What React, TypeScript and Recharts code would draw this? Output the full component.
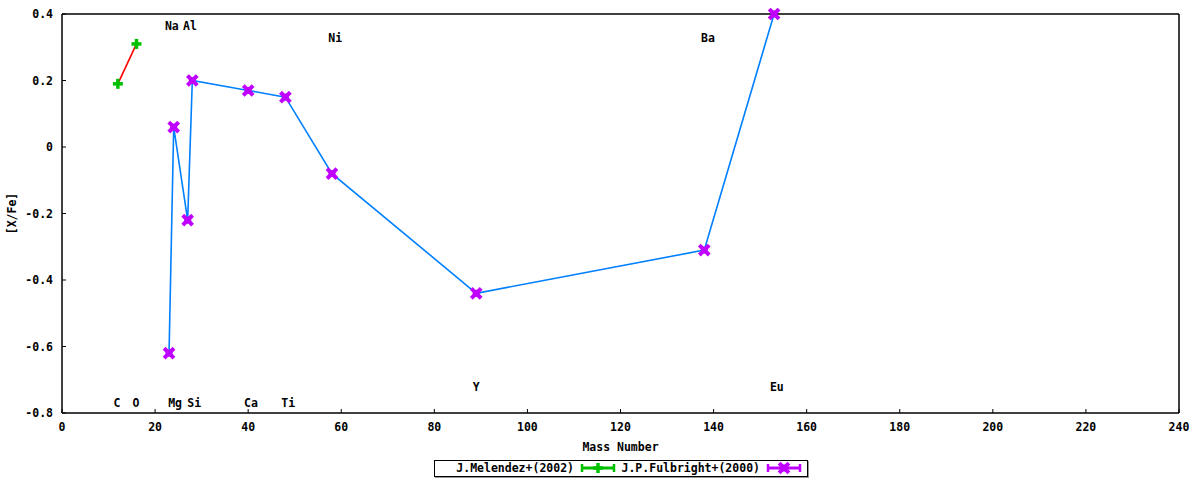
import { ComposedChart, Line, Scatter, XAxis, YAxis, Legend } from "recharts";

// abundance ratios [X/Fe] vs mass number
const melendezMass = [12, 16];
const melendezXFe = [0.19, 0.31];

const fulbrightMass = [23, 24, 27, 28, 40, 48, 58, 89, 138, 153];
const fulbrightXFe = [-0.62, 0.06, -0.22, 0.2, 0.17, 0.15, -0.08, -0.44, -0.31, 0.4];

// element labels and where they sit
const elementNames = ["C", "O", "Na", "Al", "Mg", "Si", "Ca", "Ti", "Ni", "Y", "Ba", "Eu"];
const labelMass = [11.8, 15.9, 23.6, 27.5, 24.3, 28.4, 40.6, 48.6, 58.7, 89, 138.8, 153.6];
const labelXFe = [-0.77, -0.77, 0.364, 0.364, -0.77, -0.77, -0.77, -0.77, 0.328, -0.722, 0.328, -0.722];

const xTicks = [0, 20, 40, 60, 80, 100, 120, 140, 160, 180, 200, 220, 240];
const yTicks = [-0.8, -0.6, -0.4, -0.2, 0, 0.2, 0.4];

const melendez = melendezMass.map((mass, i) => ({ mass, xfe: melendezXFe[i] }));
const fulbright = fulbrightMass.map((mass, i) => ({ mass, xfe: fulbrightXFe[i] }));
const labels = elementNames.map((name, i) => ({ name, mass: labelMass[i], xfe: labelXFe[i] }));

const FONT = "'DejaVu Sans Mono', monospace";
const GREEN = "#00c000";
const RED = "#ff0000";
const BLUE = "#0080ff";
const PURPLE = "#c000ff";
const tickStyle = { fill: "#000", fontFamily: FONT, fontSize: 11.5, fontWeight: 700 };

function PlusMark({ cx, cy }: { cx: number; cy: number }) {
  return (
    <g>
      <line x1={cx - 5} y1={cy} x2={cx + 5} y2={cy} stroke={GREEN} strokeWidth={3.5} />
      <line x1={cx} y1={cy - 5} x2={cx} y2={cy + 5} stroke={GREEN} strokeWidth={3.5} />
    </g>
  );
}

function CrossMark({ cx, cy }: { cx: number; cy: number }) {
  return (
    <g>
      <line x1={cx - 3.5} y1={cy - 3.5} x2={cx + 3.5} y2={cy + 3.5} stroke={PURPLE} strokeWidth={4} strokeLinecap="square" />
      <line x1={cx - 3.5} y1={cy + 3.5} x2={cx + 3.5} y2={cy - 3.5} stroke={PURPLE} strokeWidth={4} strokeLinecap="square" />
      <rect x={cx - 3.5} y={cy - 3.5} width={7} height={7} fill={PURPLE} />
    </g>
  );
}

function Sample({ x, color, mark }: { x: number; color: string; mark: "plus" | "cross" }) {
  const mid = x + 17;
  return (
    <g>
      <line x1={x} y1={7} x2={x + 34} y2={7} stroke={color} strokeWidth={3} />
      <line x1={x + 1} y1={3} x2={x + 1} y2={11} stroke={color} strokeWidth={2.5} />
      <line x1={x + 33} y1={3} x2={x + 33} y2={11} stroke={color} strokeWidth={2.5} />
      {mark === "plus" ? <PlusMark cx={mid} cy={7} /> : <CrossMark cx={mid} cy={7} />}
    </g>
  );
}

function LegendBox() {
  const t = { fontFamily: FONT, fontSize: 11.5, fontWeight: 700, fill: "#000" };
  return (
    <svg width={372} height={15} style={{ display: "block", border: "1px solid #000", boxShadow: "1px 1px 0 #999", background: "#fff" }}>
      <text x={139} y={7} textAnchor="end" dominantBaseline="central" {...t}>J.Melendez+(2002)</text>
      <Sample x={146} color={GREEN} mark="plus" />
      <text x={325} y={7} textAnchor="end" dominantBaseline="central" {...t}>J.P.Fulbright+(2000)</text>
      <Sample x={332} color={PURPLE} mark="cross" />
    </svg>
  );
}

export default function App() {
  return (
    <div style={{ position: "absolute", left: 0, top: 0, background: "#fff" }}>
      <ComposedChart width={1200} height={480} margin={{ top: 13, right: 20, bottom: 0, left: 0 }}>
        <XAxis
          dataKey="mass"
          type="number"
          domain={[0, 240]}
          ticks={xTicks}
          height={67}
          tickSize={-4}
          tickMargin={14}
          tick={tickStyle}
          stroke="#000"
          axisLine={{ stroke: "#000", strokeWidth: 1.5 }}
          label={{ value: "Mass Number", position: "insideBottom", offset: 29, style: { ...tickStyle } }}
        />
        <XAxis
          xAxisId="top"
          orientation="top"
          dataKey="mass"
          type="number"
          domain={[0, 240]}
          ticks={xTicks}
          height={1}
          tickSize={-4}
          tickFormatter={() => ""}
          stroke="#000"
          axisLine={{ stroke: "#000", strokeWidth: 1.5 }}
        />
        <YAxis
          type="number"
          domain={[-0.8, 0.4]}
          ticks={yTicks}
          width={62}
          tickSize={-4}
          tickMargin={13}
          tick={tickStyle}
          tickFormatter={(v: number) => String(v)}
          stroke="#000"
          axisLine={{ stroke: "#000", strokeWidth: 1.5 }}
          label={{ value: "[X/Fe]", angle: -90, position: "insideLeft", offset: 12, style: { ...tickStyle, textAnchor: "middle" } }}
        />
        <YAxis
          yAxisId="right"
          orientation="right"
          type="number"
          domain={[-0.8, 0.4]}
          ticks={yTicks}
          width={1}
          tickSize={-4}
          tickFormatter={() => ""}
          stroke="#000"
          axisLine={{ stroke: "#000", strokeWidth: 1.5 }}
        />
        <Line
          data={melendez}
          dataKey="xfe"
          stroke={RED}
          strokeWidth={1.6}
          isAnimationActive={false}
          dot={(p: any) => <PlusMark key={`m${p.index}`} cx={p.cx} cy={p.cy} />}
          activeDot={false}
        />
        <Line
          data={fulbright}
          dataKey="xfe"
          stroke={BLUE}
          strokeWidth={1.6}
          isAnimationActive={false}
          dot={(p: any) => <CrossMark key={`f${p.index}`} cx={p.cx} cy={p.cy} />}
          activeDot={false}
        />
        <Scatter
          data={labels}
          dataKey="xfe"
          isAnimationActive={false}
          shape={(p: any) => (
            <text x={p.cx} y={p.cy} textAnchor="middle" dominantBaseline="central" {...tickStyle}>
              {p.payload.name}
            </text>
          )}
        />
        <Legend
          layout="horizontal"
          verticalAlign="middle"
          align="center"
          wrapperStyle={{ left: 434, top: 460, width: 374, height: 17, bottom: "auto" }}
          content={() => <LegendBox />}
        />
      </ComposedChart>
    </div>
  );
}
